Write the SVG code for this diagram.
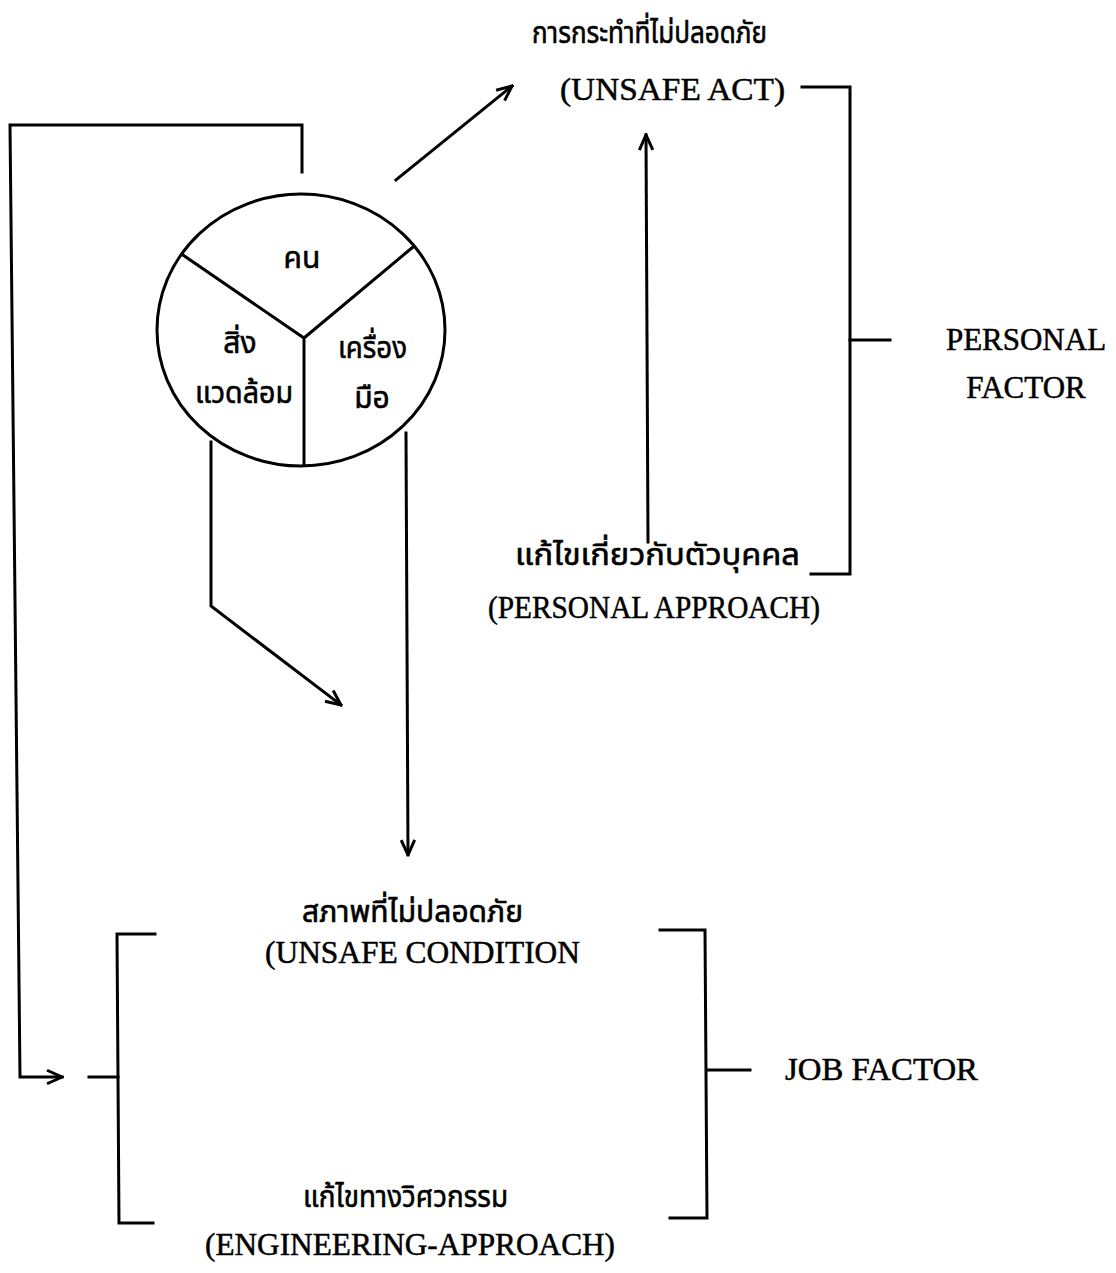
<svg xmlns="http://www.w3.org/2000/svg" width="1116" height="1273" viewBox="0 0 1116 1273">
<style>
.ln{fill:none;stroke:#000;stroke-width:3;stroke-linecap:square;stroke-linejoin:miter}
.en{font-family:"Liberation Serif","Times New Roman",serif;font-size:31px;fill:#000;stroke:#000;stroke-width:0.5}
.th{font-family:"Noto Sans Thai","Noto Sans","DejaVu Sans",sans-serif;font-size:30px;fill:#000;stroke:#000;stroke-width:0.6}
</style>
<defs>
<marker id="ah" viewBox="0 0 12 12" refX="11" refY="6" markerWidth="18" markerHeight="18" markerUnits="userSpaceOnUse" orient="auto">
<path d="M1,1.5 L11,6 L1,10.5" fill="none" stroke="#000" stroke-width="2"/>
</marker>
</defs>
<rect width="1116" height="1273" fill="#fff"/>
<g id="circle-node">
<ellipse cx="301" cy="330" rx="144" ry="136" class="ln"/>
<path class="ln" d="M183,255 L304,338 L413,247 M304,338 L304,465"/>
<text class="th" x="302" y="268" text-anchor="middle">คน</text>
<text class="th" x="240" y="353" text-anchor="middle">สิ่ง</text>
<text class="th" x="195" y="403" textLength="98" lengthAdjust="spacingAndGlyphs">แวดล้อม</text>
<text class="th" x="338" y="358" textLength="69" lengthAdjust="spacingAndGlyphs">เครื่อง</text>
<text class="th" x="372" y="408" text-anchor="middle">มือ</text>
</g>
<g id="unsafe-act">
<text class="th" x="532" y="43" textLength="235" lengthAdjust="spacingAndGlyphs">การกระทำที่ไม่ปลอดภัย</text>
<text class="en" x="560" y="100" textLength="225" lengthAdjust="spacingAndGlyphs">(UNSAFE ACT)</text>
</g>
<g id="personal-approach">
<text class="th" x="515" y="565" textLength="285" lengthAdjust="spacingAndGlyphs">แก้ไขเกี่ยวกับตัวบุคคล</text>
<text class="en" x="488" y="618" textLength="332" lengthAdjust="spacingAndGlyphs">(PERSONAL APPROACH)</text>
</g>
<g id="personal-factor">
<text class="en" x="1026" y="350" text-anchor="middle">PERSONAL</text>
<text class="en" x="1026" y="398" text-anchor="middle">FACTOR</text>
</g>
<g id="unsafe-condition">
<text class="th" x="302" y="922" textLength="221" lengthAdjust="spacingAndGlyphs">สภาพที่ไม่ปลอดภัย</text>
<text class="en" x="265" y="963" textLength="315" lengthAdjust="spacingAndGlyphs">(UNSAFE CONDITION</text>
</g>
<g id="engineering-approach">
<text class="th" x="303" y="1207" textLength="205" lengthAdjust="spacingAndGlyphs">แก้ไขทางวิศวกรรม</text>
<text class="en" x="205" y="1255" textLength="410" lengthAdjust="spacingAndGlyphs">(ENGINEERING-APPROACH)</text>
</g>
<g id="job-factor">
<text class="en" x="785" y="1080" textLength="193" lengthAdjust="spacingAndGlyphs">JOB FACTOR</text>
</g>
<g id="connectors">
<path class="ln" d="M396,180 L512,86" marker-end="url(#ah)"/>
<path class="ln" d="M648,542 L646,135" marker-end="url(#ah)"/>
<path class="ln" d="M802,87 L850,87 L850,574 L811,574"/>
<path class="ln" d="M850,340 L890,340"/>
<path class="ln" d="M211,442 L211,606 L341,705" marker-end="url(#ah)"/>
<path class="ln" d="M406,433 L408,855" marker-end="url(#ah)"/>
<path class="ln" d="M302,172 L302,125 L10,125 L20,1077 L62,1077" marker-end="url(#ah)"/>
<path class="ln" d="M155,934 L117,934 L119,1223 L153,1223"/>
<path class="ln" d="M89,1077 L118,1077"/>
<path class="ln" d="M660,930 L705,930 L707,1218 L670,1218"/>
<path class="ln" d="M707,1070 L750,1070"/>
</g>
</svg>
